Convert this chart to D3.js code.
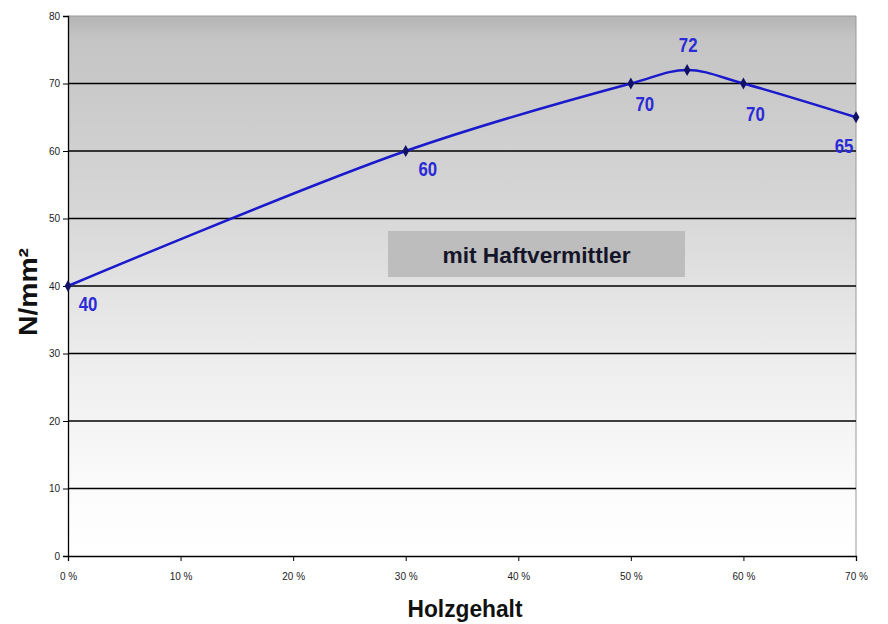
<!DOCTYPE html>
<html><head><meta charset="utf-8">
<script src="https://cdn.jsdelivr.net/npm/d3@7"></script>
<style>
body{margin:0;background:#fff;}
svg{display:block;}
</style></head>
<body>
<svg id="chart" width="888" height="624"></svg>
<script>
const holzgehalt = [0, 30, 50, 55, 60, 70];
const festigkeit = [40, 60, 70, 72, 70, 65];
const yTicks = [0, 10, 20, 30, 40, 50, 60, 70, 80];
const xTicks = [0, 10, 20, 30, 40, 50, 60, 70];
const xTickLabels = ["0 %", "10 %", "20 %", "30 %", "40 %", "50 %", "60 %", "70 %"];
const labelText = "mit Haftvermittler";
const xTitle = "Holzgehalt";
const yTitle = "N/mm²";

const FONT = "'Liberation Sans', Arial, sans-serif";
const svg = d3.select("#chart");
const m = {left: 68, right: 856, top: 16, bottom: 556};
const x = d3.scaleLinear().domain([0, 70]).range([m.left, m.right]);
const y = d3.scaleLinear().domain([0, 80]).range([m.bottom, m.top]);

const defs = svg.append("defs");
const grad = defs.append("linearGradient").attr("id", "bg").attr("x1", 0).attr("y1", 0).attr("x2", 0).attr("y2", 1);
grad.append("stop").attr("offset", "0%").attr("stop-color", "#b4b4b4");
grad.append("stop").attr("offset", "4%").attr("stop-color", "#c4c4c4");
grad.append("stop").attr("offset", "35%").attr("stop-color", "#d6d6d6");
grad.append("stop").attr("offset", "65%").attr("stop-color", "#eeeeee");
grad.append("stop").attr("offset", "90%").attr("stop-color", "#fcfcfc");
grad.append("stop").attr("offset", "100%").attr("stop-color", "#ffffff");

svg.append("rect").attr("x", m.left).attr("y", m.top).attr("width", m.right - m.left).attr("height", m.bottom - m.top).attr("fill", "url(#bg)");
svg.append("line").attr("x1", m.right).attr("x2", m.right).attr("y1", m.top).attr("y2", m.bottom).attr("stroke", "#999").attr("stroke-width", 1);
svg.append("line").attr("x1", m.left).attr("x2", m.right).attr("y1", m.top).attr("y2", m.top).attr("stroke", "#999").attr("stroke-width", 1);

// gridlines
svg.append("g").selectAll("line").data(yTicks.filter(d => d > 0 && d < 80)).join("line")
  .attr("x1", m.left).attr("x2", m.right).attr("y1", d => y(d)).attr("y2", d => y(d))
  .attr("stroke", "#000").attr("stroke-width", 1.3);

// axes
const yAxis = d3.axisLeft(y).tickValues(yTicks).tickSize(5).tickPadding(3);
const gy = svg.append("g").attr("transform", `translate(${m.left},0)`).call(yAxis);
gy.select(".domain").attr("stroke", "#000").attr("stroke-width", 1.3);
gy.selectAll("text").attr("font-family", FONT).attr("font-size", 10).attr("fill", "#222");

const xAxis = d3.axisBottom(x).tickValues(xTicks).tickFormat((d, i) => xTickLabels[i]).tickSize(5).tickPadding(12);
const gx = svg.append("g").attr("transform", `translate(0,${m.bottom})`).call(xAxis);
gx.select(".domain").attr("stroke", "#000").attr("stroke-width", 1.3);
gx.selectAll("text").attr("font-family", FONT).attr("font-size", 10).attr("fill", "#222");

// label box
const bx = 388, by = 231, bw = 297, bh = 46;
svg.append("rect").attr("x", bx).attr("y", by).attr("width", bw).attr("height", bh).attr("fill", "#bdbdbd");
svg.append("text").attr("x", bx + bw / 2).attr("y", by + 32).attr("text-anchor", "middle")
  .attr("font-family", FONT).attr("font-size", 22).attr("fill", "#15152a")
  .attr("font-weight", "bold").attr("textLength", 188).attr("lengthAdjust", "spacingAndGlyphs").text(labelText);

// line
const pts = holzgehalt.map((h, i) => [h, festigkeit[i]]);
const line = d3.line().x(d => x(d[0])).y(d => y(d[1])).curve(d3.curveCatmullRom.alpha(0.5));
svg.append("path").datum(pts).attr("d", line).attr("fill", "none").attr("stroke", "#1a1acc").attr("stroke-width", 2.5);

svg.append("g").selectAll("path").data(pts).join("path")
  .attr("transform", d => `translate(${x(d[0])},${y(d[1])})`)
  .attr("d", d3.symbol(d3.symbolDiamond, 40)).attr("fill", "#111166");

// data labels
const offsets = [[20, 25], [22, 25], [14, 27], [1, -18], [12, 37], [-12, 36]];
svg.append("g").selectAll("text").data(pts).join("text")
  .attr("transform", (d, i) => `translate(${x(d[0]) + offsets[i][0]},${y(d[1]) + offsets[i][1]}) scale(0.8,1)`)
  .attr("text-anchor", "middle")
  .attr("font-family", FONT).attr("font-size", 21).attr("font-weight", "bold")
  .attr("fill", "#2a2ad6").text(d => d[1]);

// titles
svg.append("text").attr("x", 465).attr("y", 617).attr("text-anchor", "middle")
  .attr("font-family", FONT).attr("font-size", 23).attr("font-weight", "bold").attr("fill", "#111")
  .attr("textLength", 115).attr("lengthAdjust", "spacingAndGlyphs").text(xTitle);
svg.append("text").attr("transform", "translate(37,292) rotate(-90)").attr("text-anchor", "middle")
  .attr("font-family", FONT).attr("font-size", 25).attr("font-weight", "bold").attr("fill", "#111")
  .attr("textLength", 88).attr("lengthAdjust", "spacingAndGlyphs").text(yTitle);
</script>
</body></html>
